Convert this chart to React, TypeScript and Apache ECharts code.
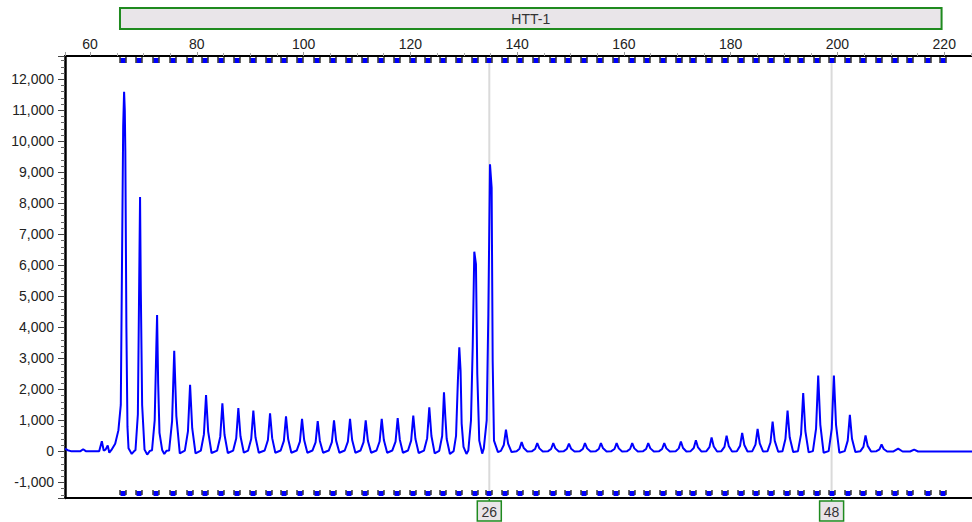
import React, { useEffect, useRef } from "react";
import * as echarts from "echarts";

// Axis ranges and tick labels
const X_MIN = 55.3;
const X_MAX = 225.2;
const Y_MIN = -1500;
const Y_MAX = 12750;
const xTicks = [60, 80, 100, 120, 140, 160, 180, 200, 220];
const yTicks = [-1000, 0, 1000, 2000, 3000, 4000, 5000, 6000, 7000, 8000, 9000, 10000, 11000, 12000];

// Marker (locus) header
const markerName = "HTT-1";
const markerRange = [65.6, 219.5];

// Bin positions (size, bp)
const binPositions = [
  66.24, 69.18, 72.36, 75.6, 78.73, 81.54, 84.48, 87.58, 90.58, 93.58, 96.39, 99.33,
  102.45, 105.45, 108.45, 111.44, 114.44, 117.43, 120.43, 123.22, 126.16, 129.16, 132.1,
  134.78, 137.72, 140.52, 143.52, 146.65, 149.46, 152.57, 155.51, 158.5, 161.44, 164.25,
  167.36, 170.36, 172.98, 175.97, 178.91, 181.85, 184.72, 187.53, 190.47, 193.15, 196.09,
  198.9, 202, 204.81, 207.81, 210.75, 213.56, 216.87, 219.68,
];

// Called alleles
const calledAlleles = ["26", "48"];
const calledPositions = [134.78, 198.9];

// Electropherogram trace [size, RFU]
const trace: [number, number][] = [
  [55.3, 90], [55.8, 40], [56.4, 10], [58.2, 10], [58.7, 70], [59.2, 10],
  [61.7, 10], [62.2, 330], [62.55, 30], [62.9, 60], [63.3, 190], [63.6, -40], [64.0, 50],
  [64.7, 250], [65.3, 680], [65.75, 1500], [66.2, 10500], [66.37, 11600], [66.5, 11000], [66.6, 9700], [66.8, 4000], [67.0, 800], [67.2, 100], [67.8, -80], [68.3, 20],
  [68.5, 40], [68.95, 1200], [69.2, 5500], [69.36, 8200], [69.5, 5200], [69.75, 1500], [70.2, 60], [70.7, -100], [71.2, 20],
  [71.6, 40], [72.1, 1000], [72.4, 3300], [72.55, 4400], [72.75, 2200], [73.0, 600], [73.5, 50], [73.9, -80], [74.3, 20],
  [74.8, 30], [75.36, 980], [75.76, 3250], [76.16, 1140], [76.8, -60],
  [77.75, 30], [78.33, 650], [78.73, 2150], [79.13, 750], [79.75, -60],
  [80.75, 30], [81.32, 550], [81.72, 1820], [82.12, 640], [82.75, -50],
  [83.8, 30], [84.38, 470], [84.78, 1550], [85.18, 540], [85.8, -50],
  [86.8, 30], [87.37, 420], [87.77, 1400], [88.17, 490], [88.8, -40],
  [89.6, 30], [90.18, 400], [90.58, 1320], [90.98, 460], [91.6, -40],
  [92.7, 30], [93.31, 370], [93.71, 1230], [94.11, 430], [94.7, -40],
  [95.7, 30], [96.3, 340], [96.7, 1130], [97.1, 400], [97.7, -40],
  [98.7, 30], [99.3, 320], [99.7, 1050], [100.1, 370], [100.7, -40],
  [101.65, 30], [102.24, 290], [102.64, 980], [103.04, 340], [103.65, -40],
  [104.7, 30], [105.29, 300], [105.69, 1000], [106.09, 350], [106.7, -40],
  [107.7, 30], [108.29, 320], [108.69, 1050], [109.09, 370], [109.7, -40],
  [110.65, 30], [111.23, 300], [111.63, 1000], [112.03, 350], [112.65, -40],
  [113.65, 30], [114.23, 320], [114.63, 1050], [115.03, 370], [115.65, -40],
  [116.6, 30], [117.22, 320], [117.62, 1080], [118.02, 380], [118.6, -40],
  [119.55, 30], [120.14, 350], [120.54, 1160], [120.94, 410], [121.55, -50],
  [122.55, 30], [123.14, 430], [123.54, 1420], [123.94, 500], [124.55, -60],
  [125.4, 20], [125.95, 500], [126.29, 1910], [126.55, 1100], [126.8, 400], [127.4, -80],
  [128.1, 10], [128.55, 500], [128.9, 2300], [129.16, 3360], [129.4, 2600], [129.6, 900], [129.95, 150], [130.5, -80],
  [130.85, 30], [131.35, 1000], [131.67, 3360], [131.97, 6440], [132.28, 6040], [132.53, 2500], [132.9, 350], [133.45, -70],
  [133.75, 100], [134.29, 1000], [134.6, 4440], [134.91, 9260], [135.22, 8500], [135.41, 2930], [135.66, 350], [136.4, -20],
  [136.95, 20], [137.5, 210], [137.9, 700], [138.3, 250], [138.95, -20],
  [139.9, 10], [140.44, 90], [140.84, 300], [141.24, 110], [141.9, 0],
  [142.8, 10], [143.36, 80], [143.76, 270], [144.16, 100], [144.8, 0],
  [145.8, 10], [146.36, 80], [146.76, 270], [147.16, 100], [147.8, 0],
  [148.75, 10], [149.3, 80], [149.7, 250], [150.1, 90], [150.75, 0],
  [151.75, 10], [152.3, 80], [152.7, 270], [153.1, 100], [153.75, 0],
  [154.75, 10], [155.29, 80], [155.69, 270], [156.09, 100], [156.75, 0],
  [157.65, 10], [158.23, 80], [158.63, 270], [159.03, 100], [159.65, 0],
  [160.6, 10], [161.15, 80], [161.55, 270], [161.95, 100], [162.6, 0],
  [163.6, 10], [164.15, 80], [164.55, 270], [164.95, 100], [165.6, 0],
  [166.6, 10], [167.15, 80], [167.55, 270], [167.95, 100], [168.6, 0],
  [169.7, 10], [170.27, 100], [170.67, 320], [171.07, 110], [171.7, 0],
  [172.5, 10], [173.08, 110], [173.48, 360], [173.88, 130], [174.5, 0],
  [175.45, 10], [176.02, 140], [176.42, 450], [176.82, 160], [177.45, 0],
  [178.25, 10], [178.83, 150], [179.23, 510], [179.63, 180], [180.25, 0],
  [181.15, 10], [181.75, 180], [182.15, 600], [182.55, 210], [183.15, 0],
  [184.05, 10], [184.64, 220], [185.04, 730], [185.44, 260], [186.05, 0],
  [186.9, 10], [187.45, 290], [187.85, 965], [188.25, 340], [188.9, -10],
  [189.7, 10], [190.25, 400], [190.65, 1320], [191.05, 460], [191.7, -20],
  [192.6, 10], [193.18, 560], [193.58, 1880], [193.98, 660], [194.6, -30],
  [195.4, 10], [195.99, 740], [196.39, 2450], [196.79, 860], [197.4, -40],
  [198.35, 10], [198.93, 740], [199.33, 2450], [199.73, 860], [200.35, -40],
  [201.35, 10], [201.92, 350], [202.32, 1180], [202.72, 410], [203.35, -20],
  [204.3, 10], [204.86, 150], [205.26, 515], [205.66, 180], [206.3, 0],
  [207.3, 10], [207.86, 70], [208.26, 225], [208.66, 80], [209.3, 0],
  [210.5, 0], [211.37, 90], [212.2, 0],
  [213.6, 0], [214.36, 60], [215.1, 0],
  [225.3, 0],
];

const FONT = '"Liberation Sans", Arial, sans-serif';
const GREEN = "#1f8a1f";
const BOX_FILL = "#e9e5e9";

export default function App() {
  const ref = useRef<HTMLDivElement>(null);

  useEffect(() => {
    const chart = echarts.init(ref.current!, null, { renderer: "svg" });
    chart.setOption({
      animation: false,
      grid: { left: 65, right: 0, top: 56, bottom: 24, containLabel: false },
      xAxis: [
        {
          type: "value",
          position: "top",
          min: X_MIN,
          max: X_MAX,
          splitNumber: 8,
          minInterval: 20,
          maxInterval: 20,
          axisLine: { show: true, onZero: false, lineStyle: { color: "#000", width: 2 } },
          axisTick: { show: true, length: 4, lineStyle: { color: "#999" } },
          minorTick: { show: true, splitNumber: 4, length: 3, lineStyle: { color: "#aaa" } },
          splitLine: { show: false },
          axisLabel: {
            margin: 5,
            fontSize: 14,
            color: "#222",
            fontFamily: FONT,
            showMinLabel: false,
            showMaxLabel: false,
            formatter: (v: number) => (xTicks.includes(v) ? String(v) : ""),
          },
        },
        {
          type: "value",
          position: "bottom",
          min: X_MIN,
          max: X_MAX,
          axisLine: { show: true, onZero: false, lineStyle: { color: "#000", width: 2 } },
          axisTick: { show: false },
          axisLabel: { show: false },
          splitLine: { show: false },
        },
      ],
      yAxis: {
        type: "value",
        min: Y_MIN,
        max: Y_MAX,
        splitNumber: 14,
        minInterval: 1000,
        maxInterval: 1000,
        axisLine: { show: true, onZero: false, lineStyle: { color: "#000", width: 2.5 } },
        axisTick: { show: true, length: 7, lineStyle: { color: "#444" } },
        minorTick: { show: true, splitNumber: 5, length: 4, lineStyle: { color: "#666" } },
        splitLine: { show: false },
        axisLabel: {
          margin: 11,
          fontSize: 14,
          color: "#222",
          fontFamily: FONT,
          showMinLabel: false,
          showMaxLabel: false,
          formatter: (v: number) => (yTicks.includes(v) ? v.toLocaleString("en-US") : ""),
        },
      },
      series: [
        {
          // allele call guide lines
          type: "custom",
          xAxisIndex: 0,
          yAxisIndex: 0,
          clip: false,
          silent: true,
          z: 1,
          data: calledPositions.map((p) => [p, 0]),
          renderItem: (params: any, api: any) => {
            const x = api.coord([api.value(0), 0])[0];
            const cs = params.coordSys;
            return {
              type: "line",
              shape: { x1: x, y1: cs.y + 2, x2: x, y2: cs.y + cs.height - 2 },
              style: { stroke: "#dadada", lineWidth: 2 },
            };
          },
        },
        {
          type: "line",
          xAxisIndex: 0,
          yAxisIndex: 0,
          data: trace,
          showSymbol: false,
          symbol: "none",
          silent: true,
          z: 3,
          lineStyle: { color: "#0000ff", width: 2 },
        },
        {
          // bin markers top and bottom
          type: "custom",
          xAxisIndex: 0,
          yAxisIndex: 0,
          clip: false,
          silent: true,
          z: 4,
          data: binPositions.map((p) => [p, 0]),
          renderItem: (params: any, api: any) => {
            const x = Math.round(api.coord([api.value(0), 0])[0]);
            const cs = params.coordSys;
            const t = cs.y + 1;
            const b = cs.y + cs.height - 1;
            return {
              type: "group",
              children: [
                { type: "rect", shape: { x: x - 2.5, y: t + 1, width: 5, height: 5 }, style: { fill: "#0000ff" } },
                { type: "line", shape: { x1: x - 3, y1: t, x2: x - 3, y2: t + 6 }, style: { stroke: "#000", lineWidth: 1.2 } },
                { type: "line", shape: { x1: x + 3, y1: t, x2: x + 3, y2: t + 6 }, style: { stroke: "#000", lineWidth: 1.2 } },
                { type: "rect", shape: { x: x - 2.5, y: b - 6, width: 5, height: 5 }, style: { fill: "#0000ff" } },
                { type: "line", shape: { x1: x - 3, y1: b - 7, x2: x - 3, y2: b - 2 }, style: { stroke: "#000", lineWidth: 1.2 } },
                { type: "line", shape: { x1: x + 3, y1: b - 7, x2: x + 3, y2: b - 2 }, style: { stroke: "#000", lineWidth: 1.2 } },
              ],
            };
          },
        },
        {
          // allele labels below the plot
          type: "custom",
          xAxisIndex: 0,
          yAxisIndex: 0,
          clip: false,
          silent: true,
          z: 5,
          data: calledPositions.map((p) => [p, 0]),
          renderItem: (params: any, api: any) => {
            const x = api.coord([api.value(0), 0])[0];
            const cs = params.coordSys;
            const b = cs.y + cs.height;
            return {
              type: "group",
              children: [
                { type: "line", shape: { x1: x, y1: b, x2: x, y2: b + 3 }, style: { stroke: GREEN, lineWidth: 1.5 } },
                {
                  type: "rect",
                  shape: { x: x - 12, y: b + 3, width: 24, height: 20 },
                  style: { fill: BOX_FILL, stroke: GREEN, lineWidth: 1.5 },
                },
                {
                  type: "text",
                  x: x,
                  y: b + 13.5,
                  style: {
                    text: calledAlleles[params.dataIndex],
                    fill: "#333",
                    font: `14px ${FONT}`,
                    align: "center",
                    verticalAlign: "middle",
                  },
                },
              ],
            };
          },
        },
        {
          // marker header box
          type: "custom",
          xAxisIndex: 0,
          yAxisIndex: 0,
          clip: false,
          silent: true,
          z: 5,
          data: [[markerRange[0], markerRange[1]]],
          renderItem: (params: any, api: any) => {
            const x1 = api.coord([api.value(0), 0])[0];
            const x2 = api.coord([api.value(1), 0])[0];
            return {
              type: "group",
              children: [
                {
                  type: "rect",
                  shape: { x: x1, y: 8, width: x2 - x1, height: 21 },
                  style: { fill: BOX_FILL, stroke: GREEN, lineWidth: 2 },
                },
                {
                  type: "text",
                  x: (x1 + x2) / 2,
                  y: 18.5,
                  style: {
                    text: markerName,
                    fill: "#333",
                    font: `14px ${FONT}`,
                    align: "center",
                    verticalAlign: "middle",
                  },
                },
              ],
            };
          },
        },
      ],
    });
    return () => chart.dispose();
  }, []);

  return (
    <div
      ref={ref}
      style={{ position: "fixed", left: 0, top: 0, width: 972, height: 522, background: "#fff" }}
    />
  );
}
